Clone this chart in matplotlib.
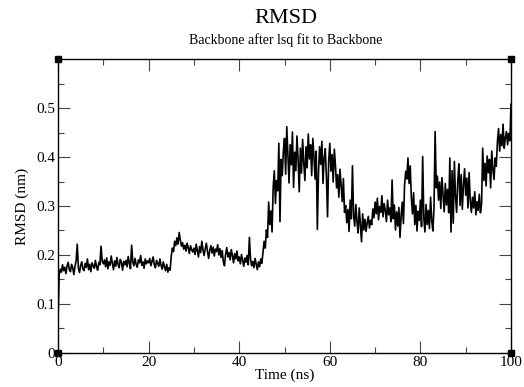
import numpy as np
import matplotlib.pyplot as plt

rmsd = [
    0.062, 0.158, 0.171, 0.165, 0.180, 0.168, 0.175, 0.162, 0.178, 0.185, 0.170, 0.166, 0.181, 0.174, 0.160, 0.177, 0.188, 0.222, 0.173, 0.164,
    0.179, 0.186, 0.171, 0.168, 0.183, 0.175, 0.192, 0.170, 0.181, 0.166, 0.184, 0.178, 0.173, 0.189, 0.176, 0.169, 0.185, 0.180, 0.218, 0.187,
    0.182, 0.190, 0.176, 0.194, 0.172, 0.186, 0.179, 0.198, 0.183, 0.170, 0.188, 0.177, 0.195, 0.181, 0.174, 0.191, 0.185, 0.169, 0.187, 0.180,
    0.189, 0.176, 0.197, 0.183, 0.172, 0.220, 0.186, 0.178, 0.193, 0.181, 0.175, 0.190, 0.184, 0.199, 0.179, 0.186, 0.173, 0.192, 0.182, 0.188,
    0.184, 0.193, 0.178, 0.187, 0.196, 0.180, 0.174, 0.189, 0.183, 0.177, 0.192, 0.179, 0.171, 0.186, 0.176, 0.168, 0.181, 0.165, 0.174, 0.169,
    0.198, 0.214, 0.207, 0.228, 0.219, 0.235, 0.222, 0.246, 0.231, 0.218, 0.225, 0.212, 0.220, 0.208, 0.224, 0.215, 0.203, 0.219, 0.211, 0.206,
    0.214, 0.201, 0.222, 0.209, 0.196, 0.217, 0.205, 0.228, 0.211, 0.199, 0.213, 0.224, 0.207, 0.193, 0.210, 0.219, 0.204, 0.216, 0.198, 0.212,
    0.207, 0.221, 0.200, 0.213, 0.195, 0.209, 0.186, 0.178, 0.202, 0.215, 0.196, 0.205, 0.190, 0.211, 0.199, 0.184, 0.203, 0.192, 0.208, 0.188,
    0.196, 0.182, 0.201, 0.189, 0.177, 0.194, 0.185, 0.199, 0.180, 0.236, 0.191, 0.178, 0.187, 0.174, 0.193, 0.181, 0.170, 0.186, 0.176, 0.192,
    0.183, 0.205, 0.228, 0.214, 0.251, 0.236, 0.308, 0.262, 0.290, 0.247, 0.338, 0.372, 0.305, 0.352, 0.331, 0.428, 0.268, 0.395, 0.362, 0.412,
    0.438, 0.365, 0.462, 0.402, 0.347, 0.425, 0.384, 0.451, 0.338, 0.410, 0.372, 0.443, 0.395, 0.329, 0.418, 0.367, 0.436, 0.389, 0.352, 0.421,
    0.378, 0.447, 0.396, 0.425, 0.362, 0.438, 0.401, 0.355, 0.412, 0.252, 0.368, 0.421, 0.385, 0.432, 0.346, 0.398, 0.417, 0.360, 0.278, 0.392,
    0.428, 0.371, 0.405, 0.349, 0.416, 0.382, 0.337, 0.364, 0.318, 0.375, 0.342, 0.309, 0.356, 0.287, 0.301, 0.266, 0.293, 0.248, 0.312, 0.274,
    0.382, 0.281, 0.259, 0.303, 0.268, 0.245, 0.296, 0.262, 0.227, 0.284, 0.251, 0.273, 0.248, 0.266, 0.279, 0.255, 0.271, 0.262, 0.294, 0.276,
    0.308, 0.284, 0.316, 0.272, 0.299, 0.287, 0.321, 0.278, 0.305, 0.291, 0.268, 0.312, 0.282, 0.296, 0.268, 0.353, 0.274, 0.302, 0.251, 0.288,
    0.259, 0.297, 0.236, 0.281, 0.308, 0.264, 0.342, 0.371, 0.355, 0.398, 0.346, 0.382, 0.318, 0.284, 0.327, 0.262, 0.301, 0.249, 0.289, 0.271,
    0.312, 0.258, 0.401, 0.276, 0.247, 0.303, 0.262, 0.291, 0.254, 0.318, 0.271, 0.249, 0.296, 0.452, 0.337, 0.361, 0.312, 0.349, 0.295, 0.358,
    0.324, 0.288, 0.346, 0.302, 0.334, 0.286, 0.398, 0.247, 0.372, 0.265, 0.391, 0.318, 0.287, 0.352, 0.386, 0.301, 0.364, 0.293, 0.341, 0.376,
    0.322, 0.357, 0.296, 0.368, 0.312, 0.287, 0.318, 0.296, 0.329, 0.282, 0.309, 0.291, 0.324, 0.286, 0.303, 0.418, 0.352, 0.387, 0.341, 0.402,
    0.368, 0.395, 0.337, 0.412, 0.376, 0.354, 0.398, 0.381, 0.431, 0.458, 0.412, 0.446, 0.423, 0.467, 0.418, 0.439, 0.452, 0.425, 0.448, 0.433,
    0.508,
]
time = np.linspace(0, 100, len(rmsd))

xticks = [0, 20, 40, 60, 80, 100]
yticks = [0, 0.1, 0.2, 0.3, 0.4, 0.5]
ytick_labels = ["0", "0.1", "0.2", "0.3", "0.4", "0.5"]

plt.rcParams["font.family"] = ["Liberation Serif", "DejaVu Serif"]

fig = plt.figure(figsize=(5.24, 3.87), dpi=100)
ax = fig.add_axes([0.1107, 0.0879, 0.8645, 0.7596])

ax.plot(time, rmsd, c="black", lw=1.2)
ax.set_xlim(0, 100)
ax.set_ylim(0, 0.6)

ax.set_xticks(xticks)
ax.set_xticks(np.arange(10, 100, 20), minor=True)
ax.set_yticks(yticks)
ax.set_yticklabels(ytick_labels)
ax.set_yticks(np.arange(0.05, 0.6, 0.1), minor=True)
ax.tick_params(which="both", direction="in", top=True, right=True, labelsize=11, color="#444444", pad=2)
ax.tick_params(which="major", length=8.5, width=0.8)
ax.tick_params(which="minor", length=4.3, width=0.8)
for s in ax.spines.values():
    s.set_linewidth(1.0)

ax.set_xlabel("Time (ns)", fontsize=11, labelpad=0)
ax.set_ylabel("RMSD (nm)", fontsize=11, labelpad=5)

# grace-style corner markers
ax.plot([0, 1, 0, 1], [0, 0, 1, 1], "s", ms=4, c="black", transform=ax.transAxes, clip_on=False)

fig.text(0.545, 0.953, "RMSD", ha="center", va="center", fontsize=16)
fig.text(0.545, 0.897, "Backbone after lsq fit to Backbone", ha="center", va="center", fontsize=10)

fig.savefig("out.png", dpi=100)
